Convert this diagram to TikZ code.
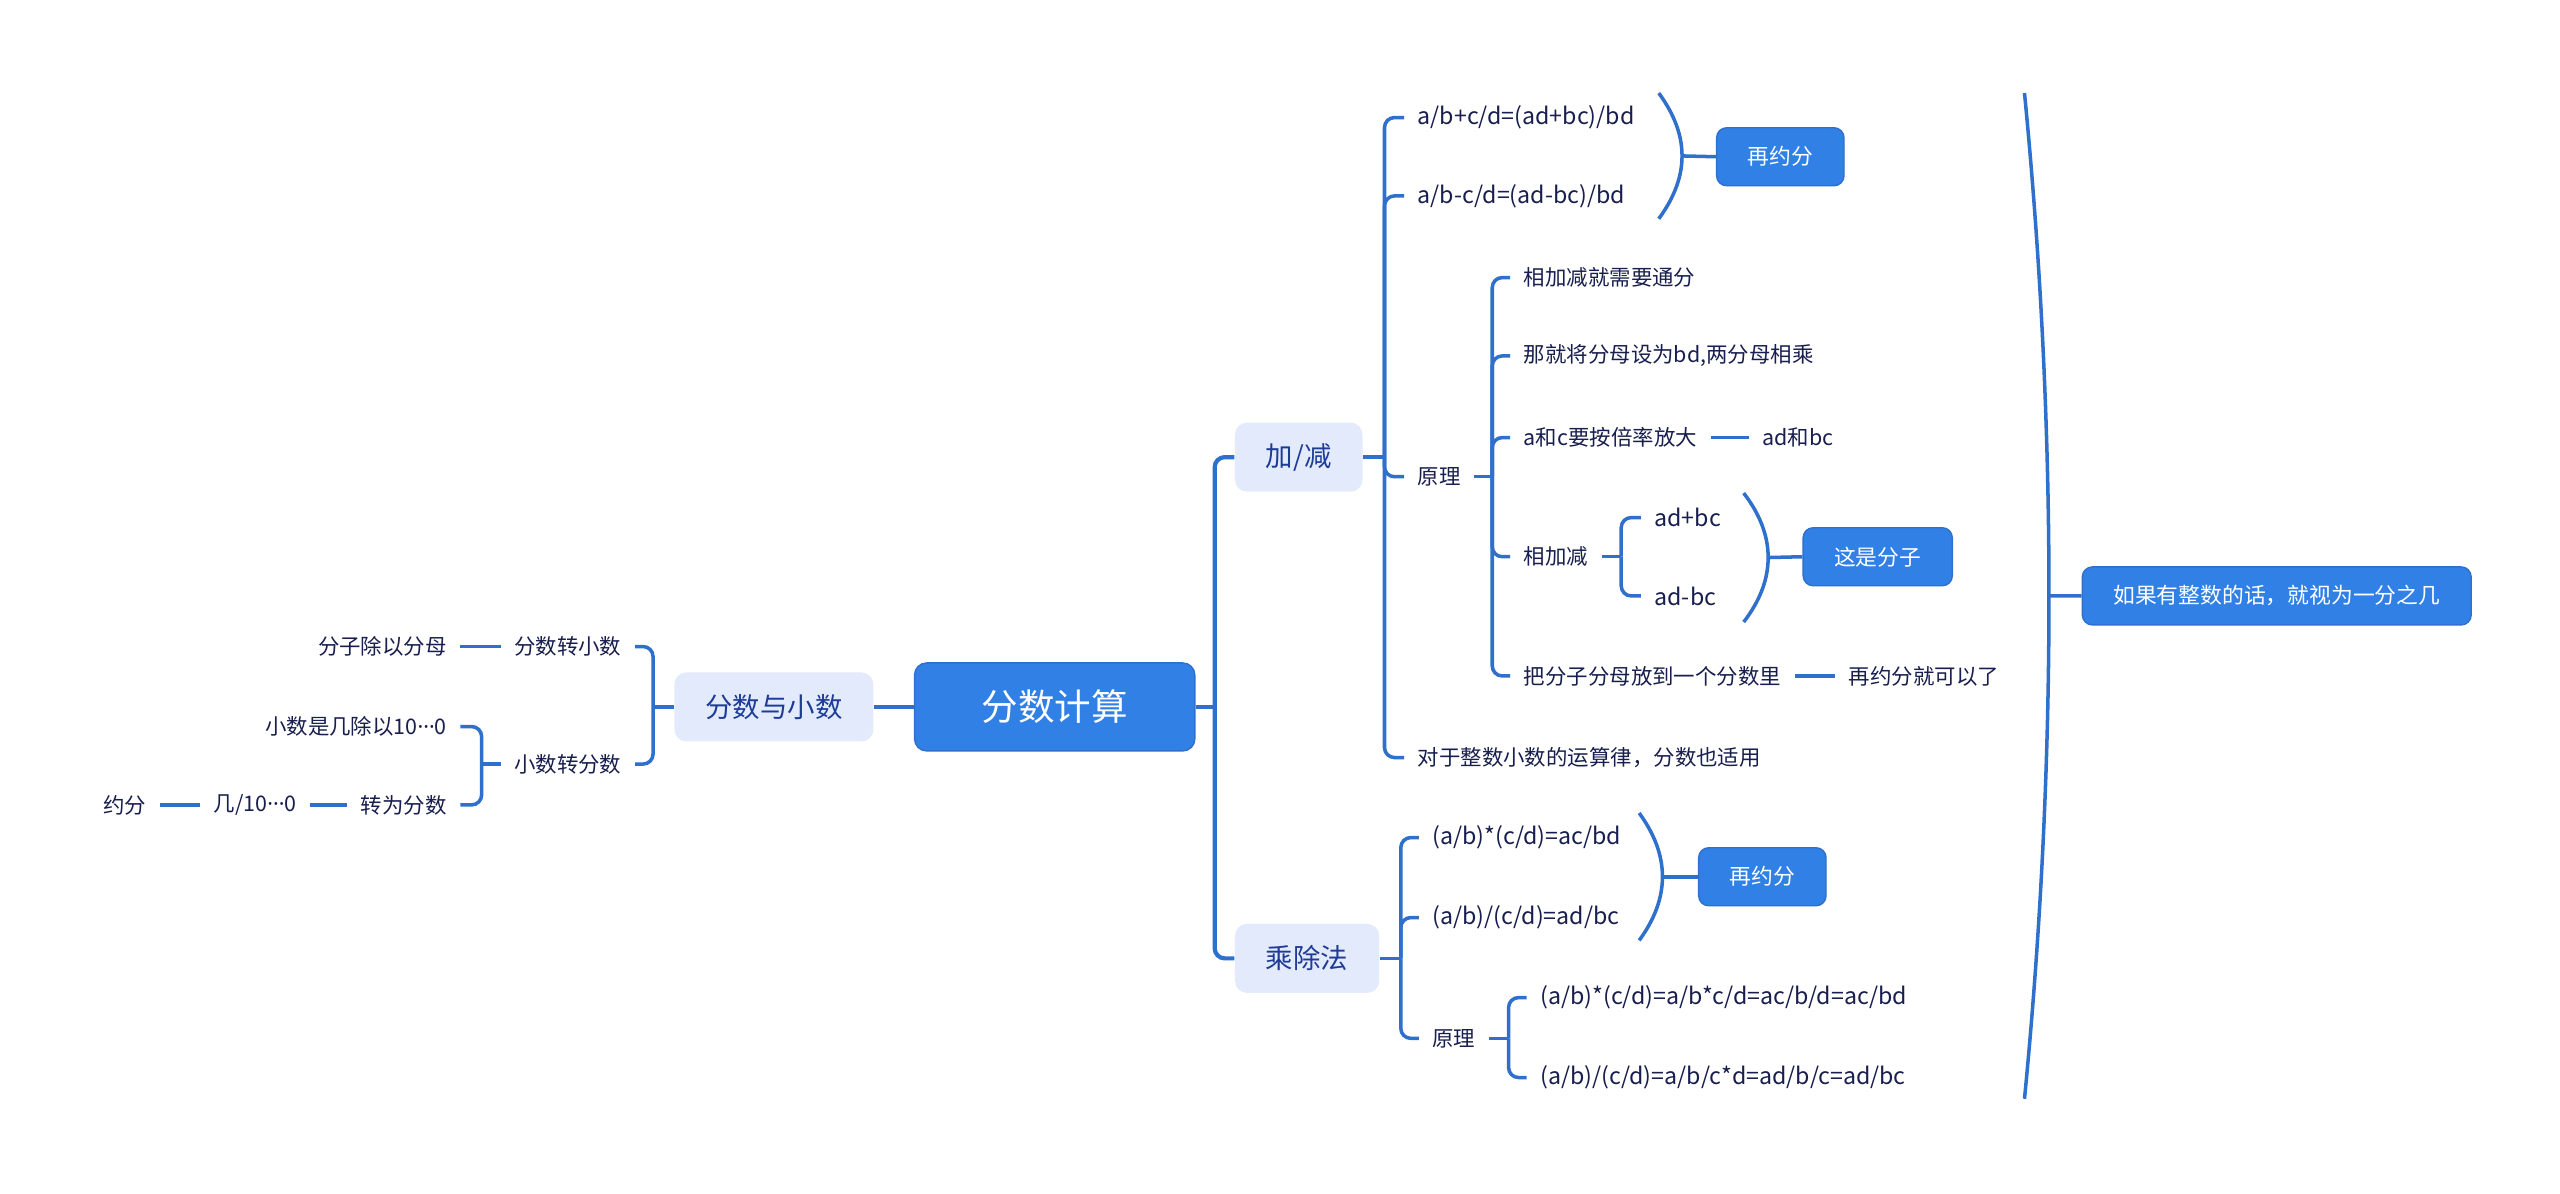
\documentclass[tikz,border=0pt]{standalone}
\usepackage{fontspec}
\setmainfont{Noto Sans CJK SC}
\newfontfamily\latinfont{Noto Sans}
\usetikzlibrary{positioning}

\definecolor{lnblue}{RGB}{46,112,204}
\definecolor{dkblue}{RGB}{49,128,230}
\definecolor{ltblue}{RGB}{226,234,252}
\definecolor{txnavy}{RGB}{24,30,78}
\definecolor{txblue}{RGB}{30,60,150}

\tikzset{
  link/.style={draw=lnblue,line width=1pt,rounded corners=0.1cm},
  rootlink/.style={draw=lnblue,line width=1.3pt},
  plain/.style={text=txnavy,inner xsep=0.13cm,inner ysep=0.05cm,font=\fontsize{6.1}{7}\selectfont},
  formula/.style={plain,font=\fontsize{6.6}{8}\selectfont},
  topicbox/.style={fill=ltblue,text=txblue,rounded corners=0.12cm,inner xsep=0.31cm,minimum height=0.69cm,font=\fontsize{7.8}{9}\selectfont},
  rootbox/.style={fill=dkblue,draw=lnblue,line width=0.4pt,text=white,rounded corners=0.12cm,inner xsep=0.67cm,minimum height=0.88cm,font=\fontsize{10.4}{12}\selectfont},
  notebox/.style={fill=dkblue,draw=lnblue,line width=0.4pt,text=white,rounded corners=0.1cm,inner xsep=0.31cm,minimum height=0.58cm,font=\fontsize{6.2}{7}\selectfont}
}
\newcommand{\mdots}{{\latinfont ···}}

\begin{document}
\begin{tikzpicture}[x=0.01633cm,y=-0.01633cm]
  \useasboundingbox (0,0) rectangle (1568,731);
  % centre
  \node[rootbox] (root) at (646,433) {分数计算};
  \node[topicbox] (fxs) at (474,433) {分数与小数};
  \node[topicbox,anchor=west] (jj) at (756,280) {加/减};
  \node[topicbox,anchor=west] (ccf) at (756,587) {乘除法};
  \draw[rootlink] (root.west) -- (fxs.east);
  \coordinate (rs) at (744,433);
  \draw[rootlink] (root.east) -- (rs);
  \draw[link,line width=1.2pt] (rs) |- (jj.west);
  \draw[link,line width=1.2pt] (rs) |- (ccf.west);

  % left side: fractions and decimals
  \node[plain,anchor=east] (fzx) at (389,396) {分数转小数};
  \node[plain,anchor=east] (xzf) at (389,468) {小数转分数};
  \node[plain,anchor=east] (fzcm) at (282,396) {分子除以分母};
  \node[plain,anchor=east] (xsj) at (282,445) {小数是几除以10\mdots0};
  \node[plain,anchor=east] (zwf) at (282,493) {转为分数};
  \node[plain,anchor=east] (jsl) at (190,493) {几/10\mdots0};
  \node[plain,anchor=east] (ywf) at (98,493) {约分};
  \coordinate (fxss) at (400,433);
  \draw[link] (fxs.west) -- (fxss);
  \draw[link] (fxss) |- (fzx.east);
  \draw[link] (fxss) |- (xzf.east);
  \draw[link] (fzx.west) -- (fzcm.east);
  \coordinate (xzfs) at (295,468);
  \draw[link] (xzf.west) -- (xzfs);
  \draw[link] (xzfs) |- (xsj.east);
  \draw[link] (xzfs) |- (zwf.east);
  \draw[link] (zwf.west) -- (jsl.east);
  \draw[link] (jsl.west) -- (ywf.east);

  % addition / subtraction
  \node[formula,anchor=west] (f1) at (860,72) {a/b+c/d=(ad+bc)/bd};
  \node[formula,anchor=west] (f2) at (860,120) {a/b-c/d=(ad-bc)/bd};
  \node[plain,anchor=west] (yl1) at (860,292) {原理};
  \node[plain,anchor=west] (dy) at (860,464) {对于整数小数的运算律，分数也适用};
  \coordinate (jjs) at (848,280);
  \draw[link] (jj.east) -- (jjs);
  \foreach \c in {f1,f2,yl1,dy}
    \draw[link] (jjs) |- (\c.west);
  \coordinate (br1t) at (1016,57);
  \coordinate (br1b) at (1016,134);
  \draw[link] (br1t) .. controls +(19,26) and +(19,-26) .. coordinate[pos=.5] (br1m) (br1b);
  \node[notebox,anchor=west] (yf1) at (1051,96) {再约分};
  \draw[link] (br1m) -- (yf1.west);

  \node[plain,anchor=west] (y1) at (925,170) {相加减就需要通分};
  \node[plain,anchor=west] (y2) at (925,218) {那就将分母设为bd,两分母相乘};
  \node[plain,anchor=west] (y3) at (925,268) {a和c要按倍率放大};
  \node[plain,anchor=west] (y4) at (925,341) {相加减};
  \node[plain,anchor=west] (y5) at (925,414) {把分子分母放到一个分数里};
  \coordinate (yl1s) at (914,292);
  \draw[link] (yl1.east) -- (yl1s);
  \foreach \c in {y1,y2,y3,y4,y5}
    \draw[link] (yl1s) |- (\c.west);
  \node[plain,anchor=west] (adbc) at (1071,268) {ad和bc};
  \draw[link] (y3.east) -- (adbc.west);
  \node[plain,anchor=west] (zyf) at (1124,414) {再约分就可以了};
  \draw[link] (y5.east) -- (zyf.west);

  \node[formula,anchor=west] (ab1) at (1005,317) {ad+bc};
  \node[formula,anchor=west] (ab2) at (1005,365) {ad-bc};
  \coordinate (y4s) at (993,341);
  \draw[link] (y4.east) -- (y4s);
  \draw[link] (y4s) |- (ab1.west);
  \draw[link] (y4s) |- (ab2.west);
  \coordinate (br2t) at (1068,302);
  \coordinate (br2b) at (1068,381);
  \draw[link] (br2t) .. controls +(20,26) and +(20,-26) .. coordinate[pos=.5] (br2m) (br2b);
  \node[notebox,anchor=west] (fzn) at (1104,341) {这是分子};
  \draw[link] (br2m) -- (fzn.west);

  % multiplication / division
  \node[formula,anchor=west] (m1) at (869,513) {(a/b)*(c/d)=ac/bd};
  \node[formula,anchor=west] (m2) at (869,562) {(a/b)/(c/d)=ad/bc};
  \node[plain,anchor=west] (yl2) at (869,636) {原理};
  \coordinate (ccfs) at (858,587);
  \draw[link] (ccf.east) -- (ccfs);
  \foreach \c in {m1,m2,yl2}
    \draw[link] (ccfs) |- (\c.west);
  \coordinate (br3t) at (1004,498);
  \coordinate (br3b) at (1004,576);
  \draw[link] (br3t) .. controls +(19,26) and +(19,-26) .. coordinate[pos=.5] (br3m) (br3b);
  \node[notebox,anchor=west] (yf2) at (1040,537) {再约分};
  \draw[link] (br3m) -- (yf2.west);

  \node[formula,anchor=west] (p1) at (935,611) {(a/b)*(c/d)=a/b*c/d=ac/b/d=ac/bd};
  \node[formula,anchor=west] (p2) at (935,660) {(a/b)/(c/d)=a/b/c*d=ad/b/c=ad/bc};
  \coordinate (yl2s) at (924,636);
  \draw[link] (yl2.east) -- (yl2s);
  \draw[link] (yl2s) |- (p1.west);
  \draw[link] (yl2s) |- (p2.west);

  % summary of the whole right side
  \coordinate (br4t) at (1240,57);
  \coordinate (br4b) at (1240,673);
  \draw[link] (br4t) .. controls +(20,205) and +(20,-205) .. coordinate[pos=.5] (br4m) (br4b);
  \node[notebox,anchor=west] (zs) at (1275,365) {如果有整数的话，就视为一分之几};
  \draw[link] (br4m) -- (zs.west);
\end{tikzpicture}
\end{document}
